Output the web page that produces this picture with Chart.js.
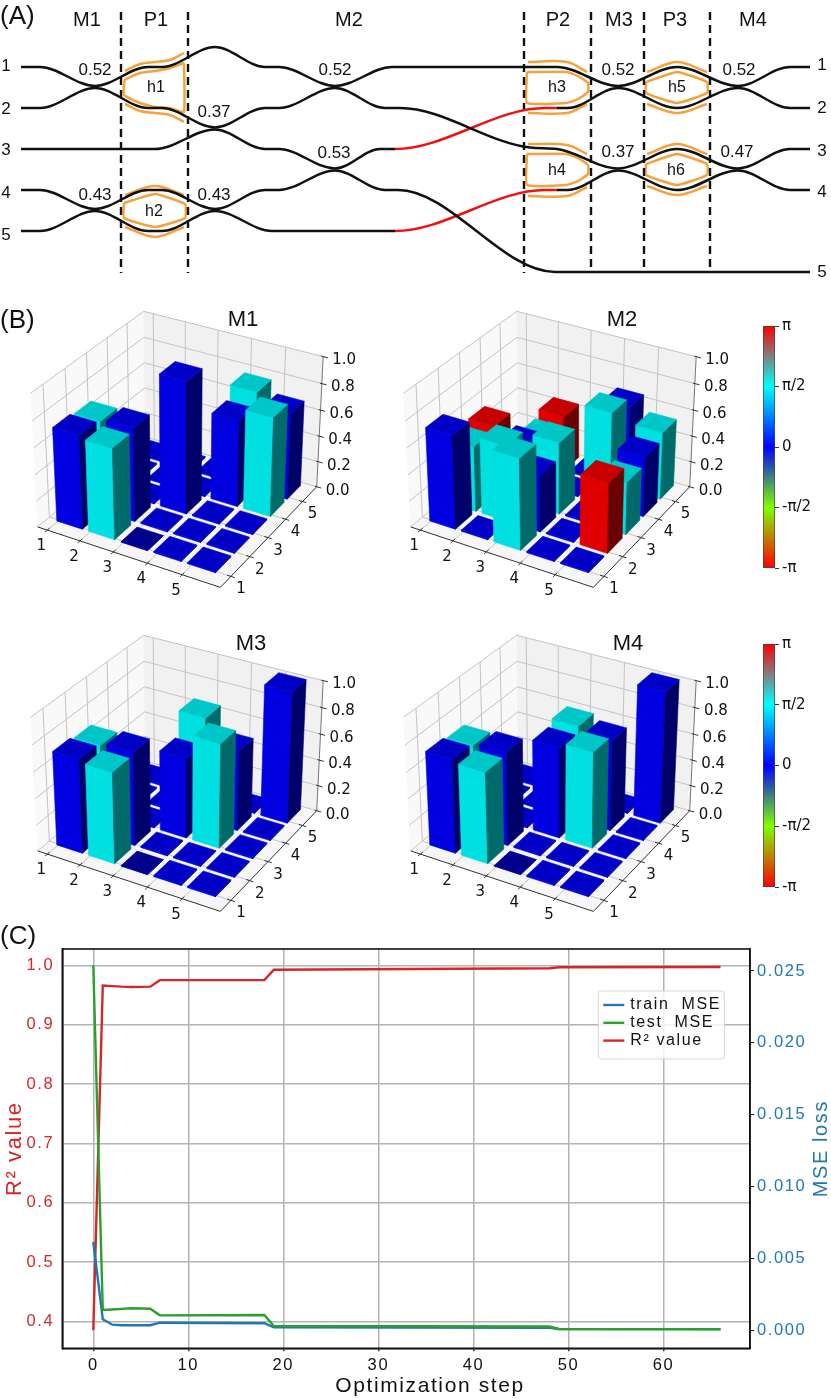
<!DOCTYPE html>
<html>
<head>
<meta charset="utf-8">
<title>Chip layout, unitary matrices and training curves</title>
<style>
  html, body { margin: 0; padding: 0; background: #fff; }
  #page { position: relative; width: 831px; height: 1399px; overflow: hidden; }
  canvas { position: absolute; }
  .tag { position: absolute; left: 0; height: 30px; line-height: 30px; font: 26px "Liberation Sans", sans-serif; color: #111; }
</style>
<script src="https://cdn.jsdelivr.net/npm/chart.js@4"></script>
</head>
<body>
<div id="page">
  <canvas id="circuit" width="831" height="290" style="left:0;top:0"></canvas>
  <canvas id="m1" width="372" height="320" style="left:0;top:295px"></canvas>
  <canvas id="m2" width="372" height="320" style="left:373px;top:295px"></canvas>
  <canvas id="m3" width="372" height="320" style="left:0;top:619px"></canvas>
  <canvas id="m4" width="372" height="320" style="left:373px;top:619px"></canvas>
  <canvas id="bar1" width="68" height="266" style="left:763px;top:314px"></canvas>
  <canvas id="bar2" width="68" height="267" style="left:763px;top:632px"></canvas>
  <canvas id="training" width="831" height="469" style="left:0;top:930px"></canvas>
  <div class="tag" style="top:0">(A)</div>
  <div class="tag" style="top:304px">(B)</div>
  <div class="tag" style="top:920px">(C)</div>
</div>
<script>
// Panel A - waveguide knots
const wire1X = [21, 40, 95, 148, 162, 215, 265, 279, 335, 392, 557, 618, 677, 738, 790, 810];
const wire1Y = [67, 67, 86, 67, 67, 47, 67, 67, 86, 67, 67, 86, 67, 86, 67, 67];
const wire2X = [21, 40, 95, 148, 162, 215, 265, 279, 335, 385, 400, 530, 557, 618, 677, 738, 790, 810];
const wire2Y = [108, 108, 88, 108, 108, 127.5, 108, 108, 88, 108, 108, 147.5, 149, 168.5, 149, 168.5, 149, 149];
const wire3X = [21, 155, 215, 265, 279, 335, 380, 395, 545, 557, 568, 618, 677, 738, 790, 810];
const wire3Y = [149, 149, 129.5, 149, 149, 168.5, 149, 149, 108, 108, 108, 88, 108, 88, 108, 108];
const wire4X = [21, 40, 95, 148, 162, 215, 265, 279, 335, 385, 398, 555, 810];
const wire4Y = [190, 190, 209, 190, 190, 209, 190, 190, 170.5, 190, 190, 272, 272];
const wire5X = [21, 40, 95, 148, 162, 215, 272, 395, 545, 557, 568, 618, 677, 738, 790, 810];
const wire5Y = [231, 231, 211, 231, 231, 211, 231, 231, 190, 190, 190, 170.5, 190, 170.5, 190, 190];

const stageNames = ['M1', 'P1', 'M2', 'P2', 'M3', 'P3', 'M4'];
const stageX = [87, 156, 349, 558, 619, 675, 753];
const dividerX = [121, 188, 524, 591, 644, 710];
const couplerText = ['0.52', '0.52', '0.37', '0.53', '0.43', '0.43', '0.52', '0.52', '0.37', '0.47'];
const couplerX = [95, 335, 214, 334, 95, 214, 618, 739, 618, 737];
const couplerY = [70, 70, 112, 153, 195, 195, 70, 70, 152, 152];
const heaterNames = ['h1', 'h2', 'h3', 'h4', 'h5', 'h6'];
const heaterX = [156, 154, 557, 557, 677, 676];
const heaterY = [88, 212, 88, 171, 88, 171];
const portNames = ['1', '2', '3', '4', '5'];
const portLeftY = [66, 109, 150, 193, 235];
const portRightY = [65, 108, 151, 192, 272];

// heater outlines, [x, y] knots
const heaterArcs = [
  [[125, 71], [140, 64], [155, 62], [170, 60], [184, 53]],
  [[125, 104], [140, 111], [155, 113], [170, 115], [184, 122]],
  [[125, 195], [155, 186], [184, 195]],
  [[125, 227], [155, 237], [184, 227]],
  [[528, 62], [567, 62], [587, 72]],
  [[528, 113], [567, 113], [587, 104]],
  [[528, 144], [567, 145], [587, 154]],
  [[528, 196], [567, 196], [587, 187]],
  [[647, 72], [677, 62], [707, 72]],
  [[647, 104], [677, 113], [707, 104]],
  [[647, 154], [677, 144], [707, 154]],
  [[647, 186], [677, 195], [707, 186]]
];
const heaterShapes = [
  [[184, 63], [170, 68], [155, 71], [140, 73], [125, 80], [124, 95], [140, 103], [155, 107], [170, 108], [184, 112], [184, 63]],
  [[124, 203], [155, 194], [185, 204], [185, 218], [155, 227], [124, 218], [124, 203]],
  [[527, 72], [567, 72], [578, 76], [588, 83], [588, 92], [578, 99], [567, 103], [527, 103], [527, 72]],
  [[527, 154], [567, 154], [578, 158], [588, 165], [588, 174], [578, 181], [567, 185], [527, 185], [527, 154]],
  [[646, 82], [677, 72], [707, 82], [707, 93], [677, 103], [646, 93], [646, 82]],
  [[646, 164], [677, 154], [707, 164], [707, 175], [677, 185], [646, 175], [646, 164]]
];

// Panel B - amplitude and phase per matrix, rows are y = 1..5, columns x = 1..5
const m1Amp = [
  [0.71, 0.69, 0, 0.01, 0.01],
  [0.69, 0.71, 0.01, 0.01, 0.01],
  [0.01, 0.01, 1.0, 0.01, 0.01],
  [0.01, 0.01, 0.01, 0.66, 0.755],
  [0.01, 0.01, 0.01, 0.755, 0.66]
];
const m1Phase = [
  [0, 1.57, 0, 0, 0],
  [1.57, 0, 0, 0, 0],
  [0, 0, 0, 0, 0],
  [0, 0, 0, 0, 1.57],
  [0, 0, 0, 1.57, 0]
];
const m2Amp = [
  [0.71, 0.01, 0.69, 0.01, 0.01],
  [0.5, 0.58, 0.43, 0.01, 0.53],
  [0.53, 0.45, 0.55, 0.01, 0.4],
  [0.01, 0.38, 0.01, 0.72, 0.46],
  [0.01, 0.43, 0.01, 0.64, 0.52]
];
const m2Phase = [
  [0, 0, 1.57, 0, 0],
  [1.57, 1.57, 0, 0, 3.14],
  [3.14, 0, 1.57, 0, 1.57],
  [0, 1.57, 0, 1.57, 0],
  [0, 3.14, 0, 0, 1.57]
];
const m3Amp = [
  [0.71, 0.69, 0, 0.01, 0.01],
  [0.69, 0.71, 0.01, 0.01, 0.01],
  [0.01, 0.01, 0.61, 0.79, 0.01],
  [0.01, 0.01, 0.79, 0.61, 0.01],
  [0.01, 0.01, 0.01, 0.01, 1.0]
];
const m3Phase = [
  [0, 1.57, 0, 0, 0],
  [1.57, 0, 0, 0, 0],
  [0, 0, 0, 1.57, 0],
  [0, 0, 1.57, 0, 0],
  [0, 0, 0, 0, 0]
];
const m4Amp = [
  [0.71, 0.69, 0, 0.01, 0.01],
  [0.69, 0.71, 0.01, 0.01, 0.01],
  [0.01, 0.01, 0.69, 0.73, 0.01],
  [0.01, 0.01, 0.73, 0.69, 0.01],
  [0.01, 0.01, 0.01, 0.01, 1.0]
];
const m4Phase = m3Phase;

const axisLabels = [1, 2, 3, 4, 5];
const heightTicks = [0, 0.2, 0.4, 0.6, 0.8, 1.0];
const phaseTicks = [-Math.PI, -Math.PI / 2, 0, Math.PI / 2, Math.PI];
const phaseTickLabels = ['-π', '-π/2', '0', 'π/2', 'π'];
const phaseStops = [-Math.PI, -0.75 * Math.PI, -Math.PI / 2, -Math.PI / 4, 0, Math.PI / 4, Math.PI / 2, 0.75 * Math.PI, Math.PI];
const phaseColors = [[255, 0, 0], [192, 128, 0], [128, 255, 0], [64, 128, 128], [0, 0, 255], [0, 128, 255], [0, 255, 255], [128, 128, 128], [255, 0, 0]];

// Panel C - only the steps where a curve changes slope
const steps = [0, 1, 2, 3, 4, 6, 7, 18, 19, 48, 49, 66];
const trainMse = [0.00613, 0.00075, 0.00037, 0.00033, 0.00033, 0.00033, 0.00051, 0.00047, 0.00019, 0.00016, 0.00007, 0.00006];
const testMse = [0.0254, 0.00139, 0.00143, 0.00147, 0.00151, 0.00148, 0.00102, 0.00104, 0.00028, 0.00024, 0.00007, 0.00005];
const r2Value = [0.385, 0.966, 0.965, 0.964, 0.9635, 0.964, 0.975, 0.975, 0.9926, 0.995, 0.9968, 0.9972];
const stepTicks = [0, 10, 20, 30, 40, 50, 60];
const r2Ticks = [0.4, 0.5, 0.6, 0.7, 0.8, 0.9, 1.0];
const mseTicks = [0, 0.005, 0.01, 0.015, 0.02, 0.025];

const BLACK = '#111';
const ORANGE = '#f6a23c';
const RED = '#d62728';
const BLUE = '#1f77b4';
const GREEN = '#2ca02c';
const SANS = '"Liberation Sans", sans-serif';
const DEJAVU = '"DejaVu Sans", sans-serif';

Chart.defaults.animation = false;
Chart.defaults.responsive = false;
Chart.defaults.plugins.legend.display = false;
Chart.defaults.plugins.tooltip.enabled = false;

function toPoints(xs, ys) {
  return xs.map((x, i) => ({x: x, y: ys[i]}));
}

function pairsToPoints(pairs) {
  return pairs.map(p => ({x: p[0], y: p[1]}));
}

// draws real text at scale positions, dx/dy nudge in pixels
function textPlugin(items) {
  return {
    id: 'plainText',
    afterDatasetsDraw(chart) {
      const ctx = chart.ctx;
      ctx.save();
      ctx.textAlign = 'center';
      ctx.textBaseline = 'middle';
      items.forEach(t => {
        ctx.font = t.font;
        ctx.fillStyle = t.color || '#111';
        ctx.fillText(t.text, chart.scales.x.getPixelForValue(t.x) + (t.dx || 0), chart.scales.y.getPixelForValue(t.y) + (t.dy || 0));
      });
      ctx.restore();
    }
  };
}

// ---------- Panel A ----------
function wireDataset(xs, ys, hasRedRun) {
  return {
    data: toPoints(xs, ys),
    showLine: true,
    borderColor: BLACK,
    borderWidth: 2.5,
    pointRadius: 0,
    cubicInterpolationMode: 'monotone',
    // the phase-shifter runs between M2 and P2 are red
    segment: {
      borderColor: c => (hasRedRun && c.p0.parsed.x >= 395 && c.p1.parsed.x <= 557 ? '#f01010' : undefined)
    }
  };
}

const circuitSets = [
  wireDataset(wire1X, wire1Y, false),
  wireDataset(wire2X, wire2Y, false),
  wireDataset(wire3X, wire3Y, true),
  wireDataset(wire4X, wire4Y, false),
  wireDataset(wire5X, wire5Y, true)
];
dividerX.forEach(x => {
  circuitSets.push({
    data: [{x: x, y: 12}, {x: x, y: 273}],
    showLine: true,
    borderColor: BLACK,
    borderWidth: 2.4,
    borderDash: [8, 5],
    pointRadius: 0
  });
});
heaterArcs.forEach(arc => {
  circuitSets.push({data: pairsToPoints(arc), showLine: true, borderColor: ORANGE, borderWidth: 2.5, pointRadius: 0, tension: 0.35});
});
heaterShapes.forEach(shape => {
  circuitSets.push({data: pairsToPoints(shape), showLine: true, borderColor: ORANGE, borderWidth: 2.5, pointRadius: 0, tension: 0.12});
});

const circuitText = [];
stageNames.forEach((s, i) => circuitText.push({text: s, x: stageX[i], y: 20, font: '20px ' + SANS}));
couplerText.forEach((s, i) => circuitText.push({text: s, x: couplerX[i], y: couplerY[i], font: '17px ' + SANS}));
heaterNames.forEach((s, i) => circuitText.push({text: s, x: heaterX[i], y: heaterY[i], font: '16px ' + SANS}));
portNames.forEach((s, i) => {
  circuitText.push({text: s, x: 6, y: portLeftY[i], font: '17px ' + SANS});
  circuitText.push({text: s, x: 822, y: portRightY[i], font: '17px ' + SANS});
});

new Chart(document.getElementById('circuit'), {
  type: 'scatter',
  data: {datasets: circuitSets},
  options: {
    layout: {padding: 0},
    scales: {
      x: {display: false, min: 0, max: 831},
      y: {display: false, min: 0, max: 290, reverse: true}
    }
  },
  plugins: [textPlugin(circuitText)]
});

// ---------- Panel B ----------
const azim = -60 * Math.PI / 180;
const elev = 30 * Math.PI / 180;
const eye = [Math.cos(elev) * Math.cos(azim), Math.cos(elev) * Math.sin(azim), Math.sin(elev)];
const sideAxis = [-Math.sin(azim), Math.cos(azim), 0];
const upAxis = [-Math.sin(elev) * Math.cos(azim), -Math.sin(elev) * Math.sin(azim), Math.cos(elev)];
const viewDist = 7.7;
const boxHeight = 0.725;

// unit box coordinates to the flat plane the chart scales cover
function project(fx, fy, fz) {
  const p = [fx - 0.5, fy - 0.5, (fz - 0.5) * boxHeight];
  const dot = a => a[0] * p[0] + a[1] * p[1] + a[2] * p[2];
  const s = viewDist / (viewDist - dot(eye));
  return {x: dot(sideAxis) * s, y: dot(upAxis) * s};
}

const barWidth = 0.147;
const lowX = i => 0.05 + 0.182 * i;
const lowY = j => 0.09 + 0.183 * j;
const tickX = i => 0.056 + 0.186 * i;
const tickY = j => 0.1 + 0.185 * j;

function phaseColor(phase) {
  let k = 0;
  while (k < phaseStops.length - 2 && phase > phaseStops[k + 1]) k++;
  const t = (phase - phaseStops[k]) / (phaseStops[k + 1] - phaseStops[k]);
  return phaseColors[k].map((c, n) => c + (phaseColors[k + 1][n] - c) * t);
}

function shade(rgb, f) {
  return 'rgb(' + rgb.map(c => Math.round(c * f)).join(',') + ')';
}

function face(points, color) {
  return {
    data: points,
    showLine: true,
    fill: 'shape',
    backgroundColor: color,
    borderColor: color,
    borderWidth: 0.6,
    pointRadius: 0
  };
}

function stroke(points, color, width) {
  return {data: points, showLine: true, borderColor: color, borderWidth: width, pointRadius: 0};
}

function matrixDatasets(amp, phase) {
  const back = [];
  // panes
  back.push(face([project(0, 0, 0), project(0, 1, 0), project(1, 1, 0), project(1, 0, 0), project(0, 0, 0)], '#f6f6f6'));
  back.push(face([project(0, 0, 0), project(0, 1, 0), project(0, 1, 1), project(0, 0, 1), project(0, 0, 0)], '#f9f9f9'));
  back.push(face([project(0, 1, 0), project(1, 1, 0), project(1, 1, 1), project(0, 1, 1), project(0, 1, 0)], '#f1f1f1'));
  // grid on panes
  const grid = '#c4c4c4';
  heightTicks.forEach(z => {
    back.push(stroke([project(0, 0, z), project(0, 1, z), project(1, 1, z)], grid, 1));
  });
  axisLabels.forEach((_, i) => {
    back.push(stroke([project(tickX(i), 0, 0), project(tickX(i), 1, 0), project(tickX(i), 1, 1)], grid, 1));
    back.push(stroke([project(1, tickY(i), 0), project(0, tickY(i), 0), project(0, tickY(i), 1)], grid, 1));
  });
  // axis edges and ticks
  back.push(stroke([project(0, 0, 0), project(1, 0, 0), project(1, 1, 0)], '#333', 1));
  back.push(stroke([project(1, 1, 0), project(1, 1, 1)], '#777', 1));
  axisLabels.forEach((_, i) => {
    back.push(stroke([project(tickX(i), -0.02, 0), project(tickX(i), 0.02, 0)], '#333', 1));
    back.push(stroke([project(1.02, tickY(i), 0), project(0.98, tickY(i), 0)], '#333', 1));
  });
  heightTicks.forEach(z => {
    back.push(stroke([project(0.99, 1, z), project(1.025, 1, z)], '#333', 1));
  });

  // bars, far ones first
  const bars = [];
  amp.forEach((row, j) => row.forEach((h, i) => {
    bars.push({x: lowX(i), y: lowY(j), h: h, phase: phase[j][i], depth: eye[0] * lowX(i) + eye[1] * lowY(j)});
  }));
  bars.sort((a, b) => a.depth - b.depth);
  bars.forEach(b => {
    const c = phaseColor(b.phase);
    const x2 = b.x + barWidth;
    const y2 = b.y + barWidth;
    back.push(face([project(b.x, b.y, 0), project(x2, b.y, 0), project(x2, b.y, b.h), project(b.x, b.y, b.h), project(b.x, b.y, 0)], shade(c, 0.88)));
    back.push(face([project(x2, b.y, 0), project(x2, y2, 0), project(x2, y2, b.h), project(x2, b.y, b.h), project(x2, b.y, 0)], shade(c, 0.42)));
    // an exactly zero bar shows its darker underside
    back.push(face([project(b.x, b.y, b.h), project(x2, b.y, b.h), project(x2, y2, b.h), project(b.x, y2, b.h), project(b.x, b.y, b.h)], shade(c, b.h > 0 ? 0.78 : 0.55)));
  });
  // chart.js paints the first dataset last
  return back.reverse();
}

function matrixChart(id, title, titleX, amp, phase) {
  const font = '15px ' + DEJAVU;
  const items = [];
  axisLabels.forEach((n, i) => {
    const a = project(tickX(i), 0, 0);
    items.push({text: String(n), x: a.x, y: a.y, dx: -6, dy: 16, font: font});
    const b = project(1, tickY(i), 0);
    items.push({text: String(n), x: b.x, y: b.y, dx: 10, dy: 13, font: font});
  });
  heightTicks.forEach(z => {
    const c = project(1, 1, z);
    items.push({text: z.toFixed(1), x: c.x, y: c.y, dx: 21, dy: 4, font: font});
  });
  const titlePlugin = {
    id: 'panelTitle',
    afterDatasetsDraw(chart) {
      const ctx = chart.ctx;
      ctx.save();
      ctx.font = '22px ' + SANS;
      ctx.fillStyle = '#111';
      ctx.textAlign = 'center';
      ctx.textBaseline = 'middle';
      ctx.fillText(title, titleX, 25);
      ctx.restore();
    }
  };
  new Chart(document.getElementById(id), {
    type: 'scatter',
    data: {datasets: matrixDatasets(amp, phase)},
    options: {
      layout: {padding: 0},
      scales: {
        x: {display: false, min: -180 / 209, max: 192 / 209},
        y: {display: false, min: -173 / 210, max: 147 / 210}
      }
    },
    plugins: [textPlugin(items), titlePlugin]
  });
}

matrixChart('m1', 'M1', 243, m1Amp, m1Phase);
matrixChart('m2', 'M2', 249, m2Amp, m2Phase);
matrixChart('m3', 'M3', 251, m3Amp, m3Phase);
matrixChart('m4', 'M4', 255, m4Amp, m4Phase);

function phaseGradient(context) {
  const chart = context.chart;
  const y = chart.scales.y;
  if (!chart.chartArea || !y) return '#00f';
  const g = chart.ctx.createLinearGradient(0, y.getPixelForValue(-Math.PI), 0, y.getPixelForValue(Math.PI));
  phaseStops.forEach((s, i) => {
    g.addColorStop((s + Math.PI) / (2 * Math.PI), 'rgb(' + phaseColors[i].join(',') + ')');
  });
  return g;
}

function colorbar(id) {
  new Chart(document.getElementById(id), {
    type: 'bar',
    data: {
      labels: ['phase'],
      datasets: [{
        data: [[-Math.PI, Math.PI]],
        backgroundColor: phaseGradient,
        borderColor: '#444',
        borderWidth: 1,
        borderSkipped: false,
        barPercentage: 1,
        categoryPercentage: 1
      }]
    },
    options: {
      layout: {padding: {top: 12, bottom: 12, left: 0, right: 0}, autoPadding: false},
      scales: {
        x: {display: false},
        y: {
          position: 'right',
          min: -Math.PI,
          max: Math.PI,
          afterBuildTicks: s => { s.ticks = phaseTicks.map(v => ({value: v})); },
          afterFit: s => { s.width = 56; },
          grid: {drawOnChartArea: false, tickLength: 4, tickColor: '#333'},
          border: {display: false},
          ticks: {
            autoSkip: false,
            padding: 3,
            color: '#111',
            font: {family: 'DejaVu Sans', size: 15},
            callback: (v, i) => phaseTickLabels[i]
          }
        }
      }
    }
  });
}
colorbar('bar1');
colorbar('bar2');

// ---------- Panel C ----------
const spacing = '1.6px';
const framePlugin = {
  id: 'frameAndLegend',
  beforeLayout(chart) { chart.ctx.letterSpacing = spacing; },
  beforeDraw(chart) { chart.ctx.letterSpacing = spacing; },
  afterDatasetsDraw(chart) {
    const ctx = chart.ctx;
    const area = chart.chartArea;
    ctx.save();
    // legend box
    ctx.beginPath();
    ctx.roundRect(area.left + 536, area.top + 42, 126, 68, 3);
    ctx.fillStyle = 'rgba(255,255,255,0.8)';
    ctx.fill();
    ctx.strokeStyle = 'rgba(204,204,204,0.8)';
    ctx.lineWidth = 1;
    ctx.stroke();
    ctx.font = '16px ' + SANS;
    ctx.textAlign = 'left';
    ctx.textBaseline = 'middle';
    chart.data.datasets.forEach((d, i) => {
      const y = area.top + 56 + i * 17.8;
      ctx.strokeStyle = d.borderColor;
      ctx.lineWidth = 2.4;
      ctx.beginPath();
      ctx.moveTo(area.left + 541, y);
      ctx.lineTo(area.left + 562, y);
      ctx.stroke();
      ctx.fillStyle = '#111';
      ctx.fillText(d.label, area.left + 568, y);
    });
    // frame
    ctx.strokeStyle = '#111';
    ctx.lineWidth = 1.6;
    ctx.strokeRect(area.left, area.top, area.right - area.left, area.bottom - area.top);
    // x title sits right of centre in the original
    ctx.textAlign = 'center';
    ctx.font = '21px ' + SANS;
    ctx.fillText('Optimization step', 430, 456);
    // right axis title reads upward
    ctx.translate(821, (area.top + area.bottom) / 2);
    ctx.rotate(-Math.PI / 2);
    ctx.font = '20px ' + SANS;
    ctx.fillStyle = BLUE;
    ctx.fillText('MSE loss', 0, 0);
    ctx.restore();
  }
};

new Chart(document.getElementById('training'), {
  type: 'scatter',
  data: {
    datasets: [
      {label: 'train  MSE', data: toPoints(steps, trainMse), yAxisID: 'yMse', order: 1, showLine: true, borderColor: BLUE, borderWidth: 2.4, pointRadius: 0},
      {label: 'test  MSE', data: toPoints(steps, testMse), yAxisID: 'yMse', order: 0, showLine: true, borderColor: GREEN, borderWidth: 2.4, pointRadius: 0},
      {label: 'R² value', data: toPoints(steps, r2Value), yAxisID: 'yR2', order: 2, showLine: true, borderColor: RED, borderWidth: 2.4, pointRadius: 0}
    ]
  },
  options: {
    layout: {padding: {top: 19, left: 0, right: 0, bottom: 0}, autoPadding: false},
    scales: {
      x: {
        type: 'linear',
        min: -3.26,
        max: 69.1,
        afterBuildTicks: s => { s.ticks = stepTicks.map(v => ({value: v})); },
        afterFit: s => { s.height = 50.7; },
        grid: {color: '#b4b4b4', lineWidth: 1.5, tickLength: 3, tickColor: '#333'},
        border: {color: '#111', width: 1.6},
        ticks: {autoSkip: false, maxRotation: 0, padding: 4, color: '#111', font: {family: 'Liberation Sans', size: 16.5}, callback: v => String(v)}
      },
      yR2: {
        type: 'linear',
        position: 'left',
        min: 0.3545,
        max: 1.0275,
        afterBuildTicks: s => { s.ticks = r2Ticks.map(v => ({value: v})); },
        afterFit: s => { s.width = 62.3; },
        grid: {color: '#b4b4b4', lineWidth: 1.5, drawTicks: false},
        border: {color: '#111', width: 1.6},
        ticks: {autoSkip: false, padding: 8, color: RED, font: {family: 'Liberation Sans', size: 16.5}, callback: v => v.toFixed(1)},
        title: {display: true, text: 'R² value', color: RED, font: {family: 'Liberation Sans', size: 22}, padding: {top: 2, bottom: 0}}
      },
      yMse: {
        type: 'linear',
        position: 'right',
        min: -0.001274,
        max: 0.02653,
        afterBuildTicks: s => { s.ticks = mseTicks.map(v => ({value: v})); },
        afterFit: s => { s.width = 81; },
        grid: {drawOnChartArea: false, tickLength: 4, tickColor: '#111'},
        border: {color: '#111', width: 1.6},
        ticks: {autoSkip: false, padding: 3, color: BLUE, font: {family: 'Liberation Sans', size: 16.5}, callback: v => v.toFixed(3)}
      }
    }
  },
  plugins: [framePlugin]
});
</script>
</body>
</html>
